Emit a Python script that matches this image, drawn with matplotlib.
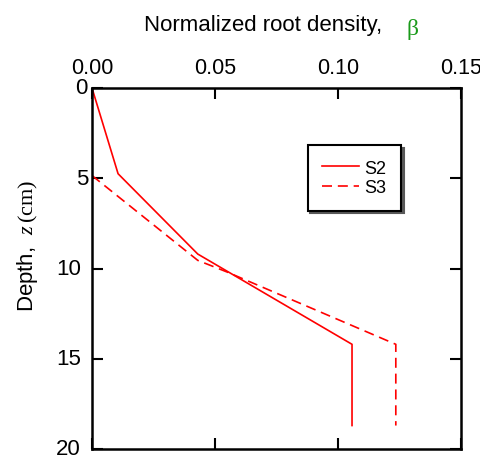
import matplotlib
matplotlib.use("Agg")
import matplotlib.pyplot as plt
import matplotlib.transforms as mtransforms

plt.rcParams['font.family'] = ['Liberation Sans', 'DejaVu Sans']
plt.rcParams['mathtext.fontset'] = 'custom'
plt.rcParams['mathtext.rm'] = 'Liberation Serif'
plt.rcParams['mathtext.it'] = 'Liberation Serif:italic'

s2_beta = [0.0, 0.0106, 0.043, 0.1057, 0.1057]
s2_depth = [0.0, 4.75, 9.2, 14.2, 18.7]
s3_beta = [0.0, 0.043, 0.055, 0.1235, 0.1235]
s3_depth = [4.85, 9.55, 10.2, 14.2, 18.7]

xticks = [0.00, 0.05, 0.10, 0.15]
xticklabels = ['0.00', '0.05', '0.10', '0.15']
yticks = [0, 5, 10, 15, 20]
yticklabels = ['0', '5', '10', '15', '20']

fig = plt.figure(figsize=(4.81, 4.56), dpi=100)
ax = fig.add_axes([92/481, 1-450/456, (461-92)/481, (450-89)/456])

ax.plot(s2_beta, s2_depth, color='red', lw=1.2, label='S2')
ax.plot(s3_beta, s3_depth, color='red', lw=1.2, ls=(0, (6, 3.5)), label='S3')

ax.set_xlim(0, 0.15)
ax.set_ylim(20, 0)
ax.set_xticks(xticks)
ax.set_xticklabels(xticklabels)
ax.set_yticks(yticks)
ax.xaxis.set_ticks_position('both')
ax.yaxis.set_ticks_position('both')
ax.tick_params(axis='both', direction='in', length=8, width=1.5, labelsize=15.5,
               top=True, bottom=True, left=True, right=True,
               labeltop=True, labelbottom=False, labelleft=False, labelright=False)
ax.tick_params(axis='x', pad=7)
for sp in ax.spines.values():
    sp.set_linewidth(1.8)

# y tick labels (single digits sit closer to the axis, as in the reference)
trans = mtransforms.blended_transform_factory(ax.transAxes, ax.transData)
for v, lab in zip(yticks, yticklabels):
    off = -4 if len(lab) == 1 else -11
    t = trans + mtransforms.ScaledTranslation(off/100, 0, fig.dpi_scale_trans)
    ax.text(0, v, lab, transform=t, ha='right', va='center', fontsize=16,
            clip_on=False)

fig.text(27/481, 1-246/456, r"Depth,  $\mathit{z}\,\mathrm{(cm)}$", fontsize=16,
         rotation=90, ha='center', va='center')

fig.text(382/481, 1-25/456, "Normalized root density,", fontsize=16,
         ha='right', va='center')
fig.text(407/481, 1-29/456, "β", fontsize=17, color='#1a9a1a',
         family=['Liberation Serif', 'DejaVu Serif'], ha='left', va='center')

leg = ax.legend(loc='center', bbox_to_anchor=(0.711, 0.751), fontsize=13,
                frameon=True, fancybox=False, shadow={'color': '0.35', 'alpha': 1},
                edgecolor='black', framealpha=1, handlelength=2.05,
                borderpad=0.8, labelspacing=0.15, handletextpad=0.3)
leg.get_frame().set_linewidth(1.5)

fig.savefig("out.png", dpi=100)
